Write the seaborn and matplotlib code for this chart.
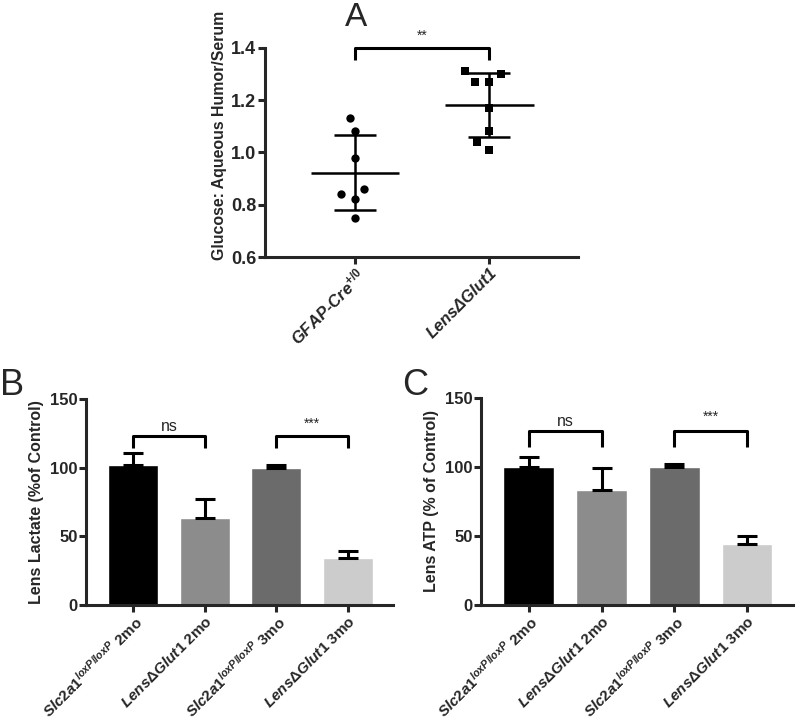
import numpy as np
import seaborn as sns
import matplotlib.pyplot as plt

# panel A: glucose ratio, individual animals
glucose_groups = ['GFAP-Cre', 'LensDGlut1']
glucose_ticklabels = ['GFAP-Cre$^{\\mathit{+/0}}$', 'LensΔGlut1']
glucose_ctrl = [1.13, 1.08, 0.98, 0.86, 0.84, 0.82, 0.75]
glucose_ko = [1.31, 1.30, 1.27, 1.27, 1.17, 1.08, 1.04, 1.01]

# panels B and C: bars with SEM
bar_groups = ['ctrl2', 'ko2', 'ctrl3', 'ko3']
bar_ticklabels = ['$\\mathit{Slc2a1}^{\\mathit{loxP/loxP}}$ 2mo',
                  '$\\mathit{Lens\\Delta Glut1}$ 2mo',
                  '$\\mathit{Slc2a1}^{\\mathit{loxP/loxP}}$ 3mo',
                  '$\\mathit{Lens\\Delta Glut1}$ 3mo']
lactate_mean = [102, 63, 100, 34]
lactate_sem = [8.7, 14.0, 1.9, 5.1]
atp_mean = [100, 83, 100, 44]
atp_sem = [7.0, 16.4, 2.2, 6.0]
bar_colors = ['#000000', '#8c8c8c', '#6b6b6b', '#cccccc']

sns.set_theme(style='ticks')
plt.rcParams['font.family'] = ['Liberation Sans', 'DejaVu Sans']
plt.rcParams['mathtext.fontset'] = 'custom'
plt.rcParams['mathtext.it'] = 'Liberation Sans:italic:bold'
plt.rcParams['mathtext.rm'] = 'Liberation Sans:bold'
plt.rcParams['mathtext.bf'] = 'Liberation Sans:bold'
plt.rcParams['mathtext.sf'] = 'Liberation Sans:bold'

LW = 2.2

fig = plt.figure(figsize=(8, 7.24), dpi=100)
axA = fig.add_axes([0.331, 0.645, 0.3915, 0.289])
axB = fig.add_axes([0.1075, 0.1644, 0.3835, 0.2846])
axC = fig.add_axes([0.601, 0.1644, 0.390, 0.2860])


def style_axis(ax, ysize):
    sns.despine(ax=ax)
    for s in ['left', 'bottom']:
        ax.spines[s].set_linewidth(LW)
    ax.tick_params(width=LW, length=5, pad=1)
    ax.tick_params(axis='y', labelsize=ysize)
    for t in ax.get_yticklabels():
        t.set_fontweight('bold')


def bracket(ax, x0, x1, y, leg, text, ty, fs):
    ax.plot([x0, x0, x1, x1], [y - leg, y, y, y - leg], color='black',
            lw=LW, clip_on=False, solid_capstyle='butt')
    ax.text((x0 + x1) / 2, ty, text, ha='center', va='center', fontsize=fs)


# ---- panel A
# swarm laid out with a wider footprint (GraphPad-like spread), drawn smaller later
sns.swarmplot(x=[glucose_groups[0]] * len(glucose_ctrl), y=glucose_ctrl,
              order=glucose_groups, color='black', size=10, marker='o', ax=axA)
sns.swarmplot(x=[glucose_groups[1]] * len(glucose_ko), y=glucose_ko,
              order=glucose_groups, color='black', size=10, marker='s', ax=axA)
swarms = list(axA.collections)
for i, vals in enumerate([glucose_ctrl, glucose_ko]):
    m = np.mean(vals)
    sd = np.std(vals, ddof=1)
    axA.hlines(m, i - 0.33, i + 0.33, color='black', lw=1.8)
    axA.errorbar(i, m, yerr=sd, fmt='none', ecolor='black', elinewidth=1.8,
                 capsize=15, capthick=1.8)
axA.set_xlim(-0.67, 1.66)
axA.set_ylim(0.6, 1.4)
axA.set_yticks([0.6, 0.8, 1.0, 1.2, 1.4])
axA.set_yticklabels(['0.6', '0.8', '1.0', '1.2', '1.4'])
axA.set_ylabel('Glucose: Aqueous Humor/Serum', fontsize=11.4, fontweight='bold')
axA.yaxis.set_label_coords(-0.122, 0.58)
style_axis(axA, 13)
axA.set_xticks([0, 1])
axA.set_xticklabels(glucose_ticklabels, rotation=45, ha='right',
                    rotation_mode='anchor', fontstyle='italic',
                    fontweight='bold', fontsize=12)
bracket(axA, 0, 1, 1.4, 0.045, '**', 1.445, 10)

# ---- panels B and C
for ax, means, sems, ylabel in [(axB, lactate_mean, lactate_sem, 'Lens Lactate (%of Control)'),
                                (axC, atp_mean, atp_sem, 'Lens ATP (% of Control)')]:
    sns.barplot(x=bar_groups, y=means, hue=bar_groups, palette=bar_colors,
                order=bar_groups, hue_order=bar_groups, width=0.7,
                saturation=1, legend=False, ax=ax)
    ax.errorbar(range(len(means)), means, yerr=[np.zeros(len(sems)), sems],
                fmt='none', ecolor='black', elinewidth=LW, capsize=7,
                capthick=LW, zorder=1)
    ax.set_xlim(-0.66, 3.63)
    ax.set_ylim(0, 150)
    ax.set_yticks([0, 50, 100, 150])
    ax.set_ylabel(ylabel, fontsize=11.5, fontweight='bold')
    style_axis(ax, 12)
    ax.set_xticks(range(4))
    ax.set_xticklabels(bar_ticklabels, rotation=45, ha='right',
                       rotation_mode='anchor', fontweight='bold', fontsize=11)

bracket(axB, 0, 1, 123, 8.5, 'ns', 130, 11.5)
bracket(axB, 2, 3, 123, 8.5, '***', 132, 10)
bracket(axC, 0, 1, 126, 11.5, 'ns', 133, 11.5)
bracket(axC, 2, 3, 126, 11.5, '***', 136, 10)

fig.text(0.431, 0.997, 'A', fontsize=24, va='top', ha='left')
fig.text(0.0, 0.492, 'B', fontsize=26, va='top', ha='left')
fig.text(0.503, 0.492, 'C', fontsize=26, va='top', ha='left')

# freeze the swarm layout, then shrink the markers to their real size
fig.canvas.draw()
for coll in swarms:
    if 'draw' in coll.__dict__:
        del coll.draw
    coll.set_sizes([6 ** 2])

fig.savefig('out.png', dpi=100)
